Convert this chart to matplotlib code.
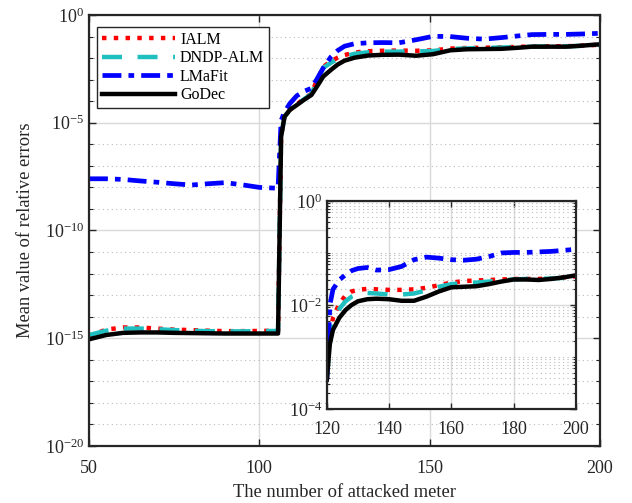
import numpy as np
import matplotlib
matplotlib.use('Agg')
import matplotlib.pyplot as plt
from matplotlib.ticker import LogLocator, FixedLocator, NullFormatter

plt.rcParams['font.family'] = ['Liberation Serif', 'DejaVu Serif']
plt.rcParams['mathtext.fontset'] = 'custom'
plt.rcParams['mathtext.rm'] = 'Liberation Serif'
plt.rcParams['mathtext.it'] = 'Liberation Serif:italic'

# main plot data (log10 of mean relative error)
x_main = [50, 55, 60, 65, 70, 75, 80, 85, 90, 95, 100, 105.5, 106.4, 107.4, 109, 111, 113, 115.3,
          117, 118.8, 121, 123, 125, 128, 132, 136, 141, 146, 151, 156, 161, 166, 171, 176, 180,
          185, 190, 195, 200]
ialm_main = [-14.9, -14.6, -14.5, -14.5, -14.55, -14.6, -14.62, -14.65, -14.67, -14.67, -14.66, -14.65,
             -5.6, -4.7, -4.4, -4.15, -3.9, -3.65, -3.0, -2.4, -2.15, -1.98, -1.86, -1.74, -1.68, -1.66,
             -1.65, -1.66, -1.64, -1.56, -1.53, -1.52, -1.50, -1.48, -1.46, -1.45, -1.45, -1.42, -1.38]
dndp_main = [-14.85, -14.65, -14.55, -14.55, -14.58, -14.62, -14.65, -14.67, -14.68, -14.68, -14.67, -14.66,
             -5.62, -4.71, -4.41, -4.16, -3.92, -3.67, -3.02, -2.45, -2.22, -2.04, -1.92, -1.80, -1.73, -1.70,
             -1.70, -1.69, -1.67, -1.58, -1.55, -1.53, -1.51, -1.49, -1.47, -1.46, -1.46, -1.43, -1.39]
lmafit_main = [-7.6, -7.6, -7.63, -7.7, -7.76, -7.83, -7.89, -7.83, -7.78, -7.88, -8.0, -8.04,
               -4.9, -4.5, -4.1, -3.75, -3.55, -3.4, -2.95, -2.45, -1.95, -1.65, -1.45, -1.33, -1.29, -1.28,
               -1.29, -1.15, -0.99, -1.0, -1.08, -1.12, -1.05, -0.97, -0.91, -0.9, -0.9, -0.88, -0.85]
godec_main = [-15.05, -14.85, -14.75, -14.73, -14.73, -14.75, -14.76, -14.77, -14.78, -14.78, -14.78, -14.78,
              -5.65, -4.72, -4.4, -4.18, -3.95, -3.71, -3.3, -2.85, -2.55, -2.3, -2.12, -1.98, -1.88, -1.85,
              -1.84, -1.89, -1.82, -1.64, -1.59, -1.58, -1.57, -1.52, -1.47, -1.47, -1.47, -1.42, -1.36]

# inset data
x_in = [120, 121, 122, 124, 126, 128, 130, 133, 136, 140, 144, 148, 152, 156, 160, 164, 168, 172,
        176, 180, 184, 188, 192, 196, 200]
ialm_in = [-3.44, -2.6, -2.25, -1.98, -1.82, -1.74, -1.71, -1.69, -1.70, -1.71, -1.71, -1.70, -1.67,
           -1.62, -1.57, -1.54, -1.53, -1.52, -1.51, -1.50, -1.50, -1.50, -1.49, -1.47, -1.45]
dndp_in = [-3.44, -2.7, -2.35, -2.08, -1.93, -1.84, -1.79, -1.77, -1.78, -1.80, -1.80, -1.78, -1.72,
           -1.65, -1.60, -1.58, -1.57, -1.55, -1.53, -1.51, -1.50, -1.50, -1.49, -1.48, -1.47]
lmafit_in = [-3.44, -2.0, -1.7, -1.52, -1.42, -1.34, -1.30, -1.28, -1.33, -1.32, -1.26, -1.13, -1.08,
             -1.10, -1.13, -1.14, -1.12, -1.07, -1.00, -0.99, -0.99, -0.98, -0.97, -0.95, -0.93]
godec_in = [-3.44, -2.75, -2.48, -2.25, -2.10, -2.00, -1.93, -1.89, -1.88, -1.89, -1.92, -1.92, -1.84,
            -1.74, -1.66, -1.65, -1.64, -1.60, -1.55, -1.51, -1.51, -1.52, -1.50, -1.47, -1.43]

labels = ['IALM', 'DNDP-ALM', 'LMaFit', 'GoDec']
colors = ['#FF0000', '#1FBFBF', '#0000FF', '#000000']
styles = [dict(ls=':', lw=3.2),
          dict(ls=(0, (4.5, 3.5)), lw=3.2),
          dict(ls=(0, (4, 1.5, 1.2, 1.5)), lw=3.4),
          dict(ls='-', lw=3.2)]

grid_major = '#d9d9d9'
grid_minor = '#bbbbbb'
spine_c = '#262626'
tick_fs = 13

fig = plt.figure(figsize=(6.32, 5.03), dpi=100)
ax = fig.add_axes([0.1408, 0.1133, 0.8085, 0.8569])

for ys, lab, c, st in zip([ialm_main, dndp_main, lmafit_main, godec_main], labels, colors, styles):
    ax.plot(x_main, 10.0 ** np.array(ys), color=c, label=lab, **st)

ax.set_yscale('log')
ax.set_xlim(50, 200)
ax.set_ylim(1e-20, 1e0)
ax.set_xticks([50, 100, 150, 200])
ax.yaxis.set_major_locator(FixedLocator([1e-20, 1e-15, 1e-10, 1e-5, 1e0]))
ax.yaxis.set_minor_locator(FixedLocator([10.0 ** k for k in range(-20, 1) if k % 5 != 0]))
ax.yaxis.set_minor_formatter(NullFormatter())
ax.set_yticklabels(['$10^{-20}$', '$10^{-15}$', '$10^{-10}$', '$10^{-5}$', '$10^{0}$'])
ax.grid(True, which='major', color=grid_major, lw=1.0, ls='-')
ax.grid(True, which='minor', axis='y', color=grid_minor, lw=0.8, ls=(0, (1, 3)))
ax.set_axisbelow(True)
ax.tick_params(which='both', direction='in', top=True, right=True, labelsize=tick_fs, colors=spine_c,
               labelcolor='#262626')
ax.tick_params(which='major', length=5, width=1)
ax.tick_params(which='minor', length=3, width=0.8)
ax.tick_params(axis='x', pad=10)
for s in ax.spines.values():
    s.set_color(spine_c)
    s.set_linewidth(1.6)
ax.set_xlabel('The number of attacked meter', fontsize=13.3, color='#262626', labelpad=5)
ax.set_ylabel('Mean value of relative errors', fontsize=13.3, color='#262626', labelpad=8)

leg = ax.legend(loc='upper left', bbox_to_anchor=(0.0, 0.99), fontsize=11.5, handlelength=4.6,
                fancybox=False, edgecolor='#262626', framealpha=1, borderpad=0.3, labelspacing=0.15,
                handletextpad=0.3, borderaxespad=0.5)
leg.get_frame().set_linewidth(1.0)

# inset
axi = fig.add_axes([0.517, 0.187, 0.3945, 0.4135])
axi.set_facecolor('white')
for ys, c, st in zip([ialm_in, dndp_in, lmafit_in, godec_in], colors, styles):
    axi.plot(x_in, 10.0 ** np.array(ys), color=c, **st)
axi.set_yscale('log')
axi.set_xlim(120, 200)
axi.set_ylim(1e-4, 1e0)
axi.set_xticks([120, 140, 160, 180, 200])
axi.yaxis.set_major_locator(FixedLocator([1e-4, 1e-2, 1e0]))
axi.set_yticklabels(['$10^{-4}$', '$10^{-2}$', '$10^{0}$'])
axi.yaxis.set_minor_locator(LogLocator(base=10, subs=np.arange(1, 10), numticks=20))
axi.yaxis.set_minor_formatter(NullFormatter())
axi.grid(True, which='major', color=grid_major, lw=1.0, ls='-')
axi.grid(True, which='minor', axis='y', color=grid_minor, lw=0.8, ls=(0, (1, 3)))
axi.set_axisbelow(True)
axi.tick_params(which='both', direction='in', top=True, right=True, labelsize=tick_fs, colors=spine_c,
                labelcolor='#262626')
axi.tick_params(which='major', length=4, width=1)
axi.tick_params(which='minor', length=2, width=0.8)
axi.tick_params(axis='x', pad=9)
for s in axi.spines.values():
    s.set_color(spine_c)
    s.set_linewidth(1.6)

fig.savefig('out.png', dpi=100)
